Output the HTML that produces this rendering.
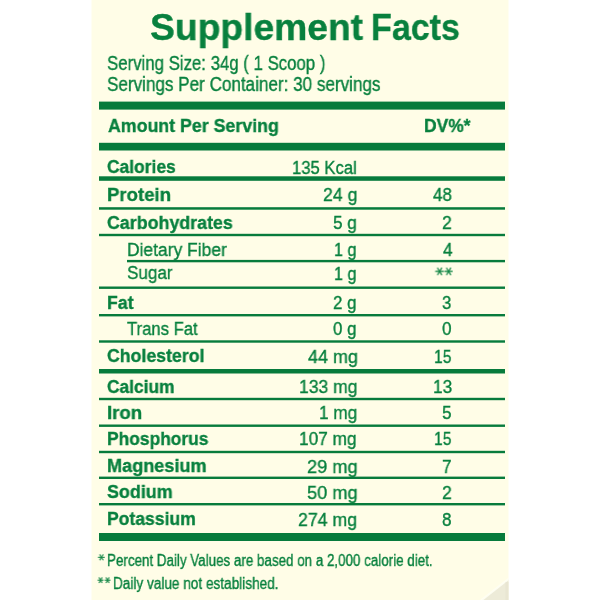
<!DOCTYPE html>
<html><head><meta charset="utf-8"><title>Supplement Facts</title>
<style>
html,body{margin:0;padding:0;background:#fff;width:600px;height:600px;overflow:hidden}
.wrap{position:relative;width:600px;height:600px}
.t{position:absolute;white-space:pre;font-family:"Liberation Sans",Arial,sans-serif;color:#08803e;transform-origin:0 0;will-change:transform;-webkit-text-stroke:0.35px #08803e}
.b{font-weight:bold;-webkit-text-stroke:0.35px #08803e}
.astg{position:absolute;left:0;top:0;font-family:"DejaVu Sans",sans-serif;color:#08803e}
.astg span{position:absolute;white-space:pre;transform:rotate(90deg);will-change:transform;-webkit-text-stroke:0.25px #08803e}
</style></head><body><div class="wrap">
<svg width="600" height="600" style="position:absolute;left:0;top:0"><rect x="91.5" y="0" width="417" height="600" fill="#fffde7"/><polygon points="481.5,600 508.5,579 508.5,600" fill="#edebd8"/><line x1="481" y1="600.5" x2="508.5" y2="579" stroke="#fffff4" stroke-width="2.2" opacity="0.9"/><rect x="505.5" y="582" width="3" height="18" fill="#e6e3cf" opacity="0.6"/><rect x="99" y="101.6" width="406" height="8" fill="#077b3c"/><rect x="99" y="142.8" width="406" height="7.7" fill="#077b3c"/><rect x="99" y="176.3" width="406" height="4.5" fill="#077b3c"/><rect x="99" y="207.2" width="406" height="2.5" fill="#077b3c"/><rect x="99" y="233.8" width="406" height="2.4" fill="#077b3c"/><rect x="127" y="259.9" width="378" height="2.4" fill="#077b3c"/><rect x="99" y="286.5" width="406" height="2.4" fill="#077b3c"/><rect x="99" y="314.0" width="406" height="2.4" fill="#077b3c"/><rect x="99" y="340.3" width="406" height="2.4" fill="#077b3c"/><rect x="99" y="369.0" width="406" height="4.5" fill="#077b3c"/><rect x="99" y="397.8" width="406" height="2.4" fill="#077b3c"/><rect x="99" y="424.5" width="406" height="2.4" fill="#077b3c"/><rect x="99" y="450.8" width="406" height="2.4" fill="#077b3c"/><rect x="99" y="476.6" width="406" height="2.4" fill="#077b3c"/><rect x="99" y="503.0" width="406" height="2.4" fill="#077b3c"/><rect x="99" y="533.0" width="406" height="8" fill="#077b3c"/></svg>
<div class="t b" style="left:149.51px;top:9.40px;font-size:37.5px;line-height:37.5px;transform:scaleX(0.9934)">Supplement</div>
<div class="t b" style="left:371.48px;top:9.40px;font-size:37.5px;line-height:37.5px;transform:scaleX(0.9084)">Facts</div>
<div class="t" style="left:107.43px;top:53.90px;font-size:19.4px;line-height:19.4px;transform:scaleX(0.8660)">Serving Size: 34g ( 1 Scoop )</div>
<div class="t" style="left:107.42px;top:74.80px;font-size:19.4px;line-height:19.4px;transform:scaleX(0.8809)">Servings Per Container: 30 servings</div>
<div class="t b" style="left:108.20px;top:116.00px;font-size:19.2px;line-height:19.2px;transform:scaleX(0.9262)">Amount Per Serving</div>
<div class="t b" style="left:424.08px;top:116.00px;font-size:19.0px;line-height:19.0px;transform:scaleX(0.9160)">DV%*</div>
<div class="t b" style="left:107.09px;top:156.80px;font-size:19.2px;line-height:19.2px;transform:scaleX(0.9081)">Calories</div>
<div class="t b" style="left:107.03px;top:184.80px;font-size:19.2px;line-height:19.2px;transform:scaleX(0.9672)">Protein</div>
<div class="t b" style="left:107.07px;top:212.80px;font-size:19.2px;line-height:19.2px;transform:scaleX(0.9291)">Carbohydrates</div>
<div class="t" style="left:127.49px;top:239.80px;font-size:19.2px;line-height:19.2px;transform:scaleX(0.9092)">Dietary Fiber</div>
<div class="t" style="left:127.11px;top:263.40px;font-size:19.2px;line-height:19.2px;transform:scaleX(0.8900)">Sugar</div>
<div class="t b" style="left:107.38px;top:292.80px;font-size:19.2px;line-height:19.2px;transform:scaleX(0.9214)">Fat</div>
<div class="t" style="left:126.50px;top:318.80px;font-size:19.2px;line-height:19.2px;transform:scaleX(0.8679)">Trans Fat</div>
<div class="t b" style="left:107.08px;top:345.60px;font-size:19.2px;line-height:19.2px;transform:scaleX(0.9231)">Cholesterol</div>
<div class="t b" style="left:107.09px;top:376.60px;font-size:19.2px;line-height:19.2px;transform:scaleX(0.9055)">Calcium</div>
<div class="t b" style="left:107.33px;top:403.00px;font-size:19.2px;line-height:19.2px;transform:scaleX(0.9706)">Iron</div>
<div class="t b" style="left:107.39px;top:428.60px;font-size:19.2px;line-height:19.2px;transform:scaleX(0.9064)">Phosphorus</div>
<div class="t b" style="left:107.06px;top:456.10px;font-size:19.2px;line-height:19.2px;transform:scaleX(0.9433)">Magnesium</div>
<div class="t b" style="left:107.07px;top:482.40px;font-size:19.2px;line-height:19.2px;transform:scaleX(0.9338)">Sodium</div>
<div class="t b" style="left:107.39px;top:508.80px;font-size:19.2px;line-height:19.2px;transform:scaleX(0.9147)">Potassium</div>
<div class="t" style="left:106.96px;top:553.20px;font-size:16.0px;line-height:16.0px;transform:scaleX(0.8364)">Percent Daily Values are based on a 2,000 calorie diet.</div>
<div class="t" style="left:113.45px;top:575.50px;font-size:16.0px;line-height:16.0px;transform:scaleX(0.8497)">Daily value not established.</div>
<div class="t" style="left:292.13px;top:157.50px;font-size:19.2px;line-height:19.2px;transform:scaleX(0.8671)">135 Kcal</div>
<div class="t" style="left:322.88px;top:184.50px;font-size:19.2px;line-height:19.2px;transform:scaleX(0.9200)">24 g</div>
<div class="t" style="left:332.81px;top:213.10px;font-size:19.2px;line-height:19.2px;transform:scaleX(0.8920)">5 g</div>
<div class="t" style="left:333.76px;top:239.80px;font-size:19.2px;line-height:19.2px;transform:scaleX(0.8440)">1 g</div>
<div class="t" style="left:333.76px;top:264.10px;font-size:19.2px;line-height:19.2px;transform:scaleX(0.8440)">1 g</div>
<div class="t" style="left:332.82px;top:293.00px;font-size:19.2px;line-height:19.2px;transform:scaleX(0.8800)">2 g</div>
<div class="t" style="left:332.82px;top:318.80px;font-size:19.2px;line-height:19.2px;transform:scaleX(0.8800)">0 g</div>
<div class="t" style="left:307.70px;top:346.60px;font-size:19.2px;line-height:19.2px;transform:scaleX(0.9346)">44 mg</div>
<div class="t" style="left:298.69px;top:377.00px;font-size:19.2px;line-height:19.2px;transform:scaleX(0.9145)">133 mg</div>
<div class="t" style="left:318.70px;top:403.30px;font-size:19.2px;line-height:19.2px;transform:scaleX(0.8951)">1 mg</div>
<div class="t" style="left:299.00px;top:429.40px;font-size:19.2px;line-height:19.2px;transform:scaleX(0.9000)">107 mg</div>
<div class="t" style="left:307.05px;top:457.00px;font-size:19.2px;line-height:19.2px;transform:scaleX(0.9471)">29 mg</div>
<div class="t" style="left:307.05px;top:483.10px;font-size:19.2px;line-height:19.2px;transform:scaleX(0.9471)">50 mg</div>
<div class="t" style="left:298.08px;top:509.50px;font-size:19.2px;line-height:19.2px;transform:scaleX(0.9242)">274 mg</div>
<div class="t" style="left:432.80px;top:184.50px;font-size:19.2px;line-height:19.2px;transform:scaleX(0.8810)">48</div>
<div class="t" style="left:442.08px;top:213.10px;font-size:19.2px;line-height:19.2px;transform:scaleX(0.9222)">2</div>
<div class="t" style="left:442.50px;top:239.80px;font-size:19.2px;line-height:19.2px;transform:scaleX(0.9000)">4</div>
<div class="t" style="left:442.13px;top:293.00px;font-size:19.2px;line-height:19.2px;transform:scaleX(0.8667)">3</div>
<div class="t" style="left:442.11px;top:318.80px;font-size:19.2px;line-height:19.2px;transform:scaleX(0.8889)">0</div>
<div class="t" style="left:433.69px;top:346.60px;font-size:19.2px;line-height:19.2px;transform:scaleX(0.8150)">15</div>
<div class="t" style="left:432.50px;top:377.00px;font-size:19.2px;line-height:19.2px;transform:scaleX(0.8950)">13</div>
<div class="t" style="left:442.11px;top:403.30px;font-size:19.2px;line-height:19.2px;transform:scaleX(0.8889)">5</div>
<div class="t" style="left:433.69px;top:429.40px;font-size:19.2px;line-height:19.2px;transform:scaleX(0.8150)">15</div>
<div class="t" style="left:442.11px;top:457.00px;font-size:19.2px;line-height:19.2px;transform:scaleX(0.8889)">7</div>
<div class="t" style="left:442.08px;top:483.10px;font-size:19.2px;line-height:19.2px;transform:scaleX(0.9222)">2</div>
<div class="t" style="left:442.11px;top:509.50px;font-size:19.2px;line-height:19.2px;transform:scaleX(0.8889)">8</div>
<div class="astg" style="font-size:16.8px;line-height:16.8px"><span style="left:435.30px;top:265.79px;transform-origin:4.20px 5.46px">*</span><span style="left:444.05px;top:265.79px;transform-origin:4.20px 5.46px">*</span></div>
<div class="astg" style="font-size:13.4px;line-height:13.4px"><span style="left:98.05px;top:552.64px;transform-origin:3.35px 4.36px">*</span></div>
<div class="astg" style="font-size:13.0px;line-height:13.0px"><span style="left:97.75px;top:575.67px;transform-origin:3.25px 4.23px">*</span><span style="left:104.85px;top:575.67px;transform-origin:3.25px 4.23px">*</span></div>
</div></body></html>
